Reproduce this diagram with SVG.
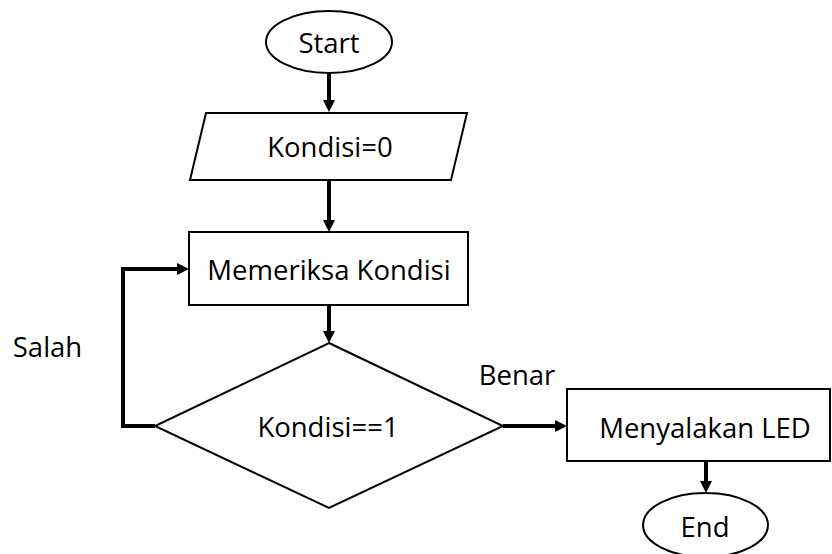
<svg xmlns="http://www.w3.org/2000/svg" width="832" height="554" viewBox="0 0 832 554">
  <defs>
    <style>
      .shape { fill: #ffffff; stroke: #000000; stroke-width: 2; }
      .conn { fill: none; stroke: #000000; stroke-width: 4; stroke-linejoin: miter; }
      .lbl { font-family: "Open Sans", "Noto Sans", sans-serif; font-size: 27.5px; fill: #000000; text-anchor: middle; }
    </style>
    <marker id="arrow" markerUnits="userSpaceOnUse" markerWidth="12" markerHeight="12" refX="1" refY="6" orient="auto">
      <path d="M0,0 L12,6 L0,12 z" fill="#000000"/>
    </marker>
  </defs>
  <rect width="832" height="554" fill="#ffffff"/>

  <g id="connectors">
    <line class="conn" x1="329" y1="73" x2="329" y2="101" marker-end="url(#arrow)"/>
    <line class="conn" x1="329" y1="180" x2="329" y2="221" marker-end="url(#arrow)"/>
    <line class="conn" x1="329" y1="305" x2="329" y2="332" marker-end="url(#arrow)"/>
    <polyline class="conn" points="155,426 123,426 123,269 178,269" marker-end="url(#arrow)"/>
    <line class="conn" x1="503" y1="426" x2="556" y2="426" marker-end="url(#arrow)"/>
    <line class="conn" x1="706" y1="461" x2="706" y2="482" marker-end="url(#arrow)"/>
  </g>

  <g id="start">
    <ellipse class="shape" cx="329" cy="42" rx="63" ry="31"/>
    <text class="lbl" x="329" y="53">Start</text>
  </g>

  <g id="init">
    <polygon class="shape" points="206,113 467,113 451,180 190,180"/>
    <text class="lbl" x="330" y="157">Kondisi=0</text>
  </g>

  <g id="check">
    <rect class="shape" x="189" y="232" width="279" height="73"/>
    <text class="lbl" x="329" y="280">Memeriksa Kondisi</text>
  </g>

  <g id="decision">
    <polygon class="shape" points="329,343 503,426 329,508 155,426"/>
    <text class="lbl" x="328" y="437">Kondisi==1</text>
  </g>

  <g id="led">
    <rect class="shape" x="567" y="389" width="263" height="72"/>
    <text class="lbl" x="705" y="438">Menyalakan LED</text>
  </g>

  <g id="end">
    <ellipse class="shape" cx="705.5" cy="525" rx="62.5" ry="32"/>
    <text class="lbl" x="705" y="537">End</text>
  </g>

  <g id="labels">
    <text class="lbl" x="47.5" y="357">Salah</text>
    <text class="lbl" x="517" y="385">Benar</text>
  </g>
</svg>
